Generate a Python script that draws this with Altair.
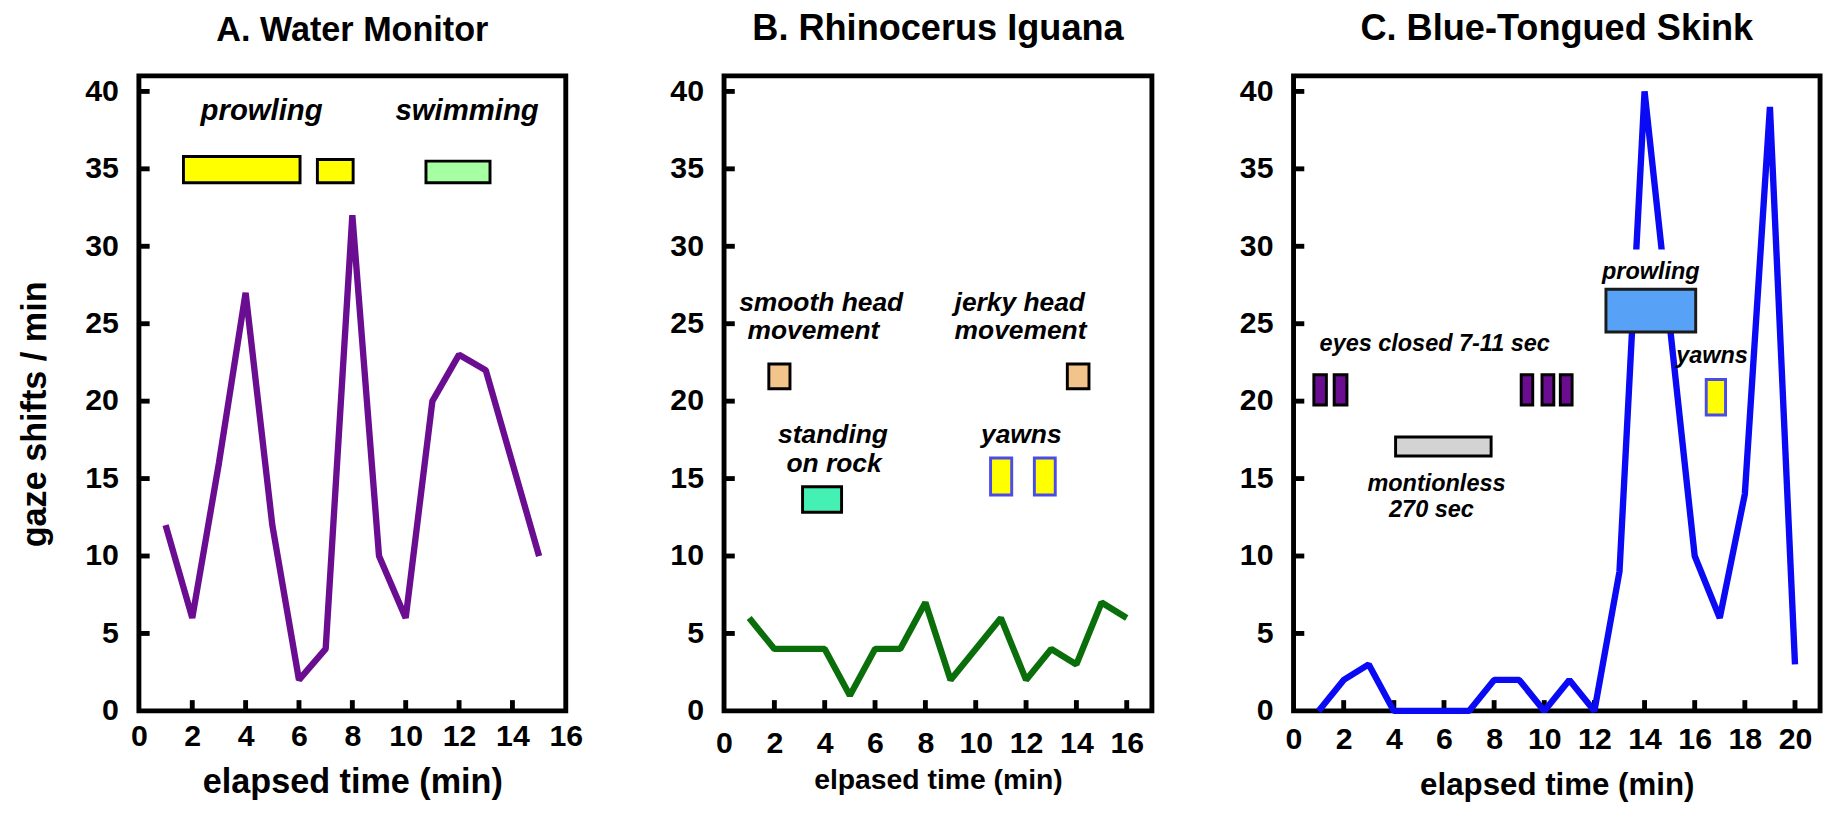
import altair as alt
import pandas as pd

FONT = "Liberation Sans"

# ---------------- Panel A: Water Monitor ----------------
a_time = list(range(1, 16))
a_gaze = [12, 6, 16, 27, 12, 2, 4, 32, 10, 6, 20, 23, 22, 16, 10]
a_box_x1 = [1.67, 6.69, 10.76]
a_box_x2 = [6.04, 8.03, 13.16]
a_box_y1 = [34.1, 34.1, 34.1]
a_box_y2 = [35.8, 35.6, 35.5]
a_box_fill = ["#FFFF00", "#FFFF00", "#A6FFA0"]
a_box_stroke = ["#000000", "#000000", "#000000"]
a_lab_text = ["prowling", "swimming"]
a_lab_x = [4.6, 12.3]
a_lab_y = [38.7, 38.7]

# ---------------- Panel B: Rhinocerus Iguana ----------------
b_time = list(range(1, 17))
b_gaze = [6, 4, 4, 4, 1, 4, 4, 7, 2, 4, 6, 2, 4, 3, 7, 6]
b_box_x1 = [1.78, 13.64, 3.12, 10.59, 12.33]
b_box_x2 = [2.62, 14.50, 4.67, 11.43, 13.16]
b_box_y1 = [20.8, 20.8, 12.83, 13.94, 13.94]
b_box_y2 = [22.4, 22.4, 14.47, 16.33, 16.33]
b_box_fill = ["#F3C38C", "#F3C38C", "#44F0B4", "#FFFF00", "#FFFF00"]
b_box_stroke = ["#000000", "#000000", "#000000", "#4B4BE6", "#4B4BE6"]
b_lab_text = ["smooth head", "movement", "jerky head", "movement",
              "standing", "on rock", "yawns"]
b_lab_x = [3.86, 3.55, 11.75, 11.78, 4.33, 4.37, 11.81]
b_lab_y = [26.35, 24.5, 26.35, 24.5, 17.8, 15.9, 17.8]

# ---------------- Panel C: Blue-Tongued Skink ----------------
c_time = list(range(1, 21))
c_gaze = [0, 2, 3, 0, 0, 0, 0, 2, 2, 0, 2, 0, 9, 40, 25, 10, 6, 14, 39, 3]
c_box_x1 = [12.1, 0.81, 1.62, 9.08, 9.91, 10.64, 4.07, 12.46, 16.46]
c_box_x2 = [15.9, 1.31, 2.13, 9.54, 10.38, 11.11, 7.88, 16.04, 17.23]
c_box_y1 = [27.3, 19.75, 19.75, 19.75, 19.75, 19.75, 16.46, 24.46, 19.1]
c_box_y2 = [29.7, 21.7, 21.7, 21.7, 21.7, 21.7, 17.68, 27.23, 21.4]
c_box_fill = ["#FFFFFF", "#6A0D91", "#6A0D91", "#6A0D91", "#6A0D91",
              "#6A0D91", "#D3D3D3", "#57A2F6", "#FFFF00"]
c_box_stroke = ["#FFFFFF", "#000000", "#000000", "#000000", "#000000",
                "#000000", "#000000", "#1A1A1A", "#4B4BE6"]
c_lab_text = ["eyes closed 7-11 sec", "montionless", "270 sec", "prowling", "yawns"]
c_lab_x = [5.63, 5.70, 5.5, 14.25, 16.69]
c_lab_y = [23.7, 14.65, 12.94, 28.3, 22.9]

Y_TICKS = [0, 5, 10, 15, 20, 25, 30, 35, 40]
Y_MAX = 41
H = 650
TICK_LEN = 11   # inward tick length, pixels


def panel(time, gaze, color, bx1, bx2, by1, by2, bfill, bstroke,
          ltext, lx, ly, lsize, xmax, xlabels, xticks, width, title,
          title_size, xtitle, xtitle_size, xtitle_y, label_pad, ytitle=False):
    xs = alt.Scale(domain=[0, xmax], nice=False, zero=False)
    ys = alt.Scale(domain=[0, Y_MAX], nice=False, zero=False)

    xaxis = alt.Axis(values=xlabels, title=xtitle, titleFontSize=xtitle_size,
                     titleY=xtitle_y, titleBaseline="alphabetic",
                     labelPadding=label_pad)
    if ytitle:
        yaxis = alt.Axis(values=Y_TICKS, title="gaze shifts / min",
                         titleFontSize=35, titleX=-96, titleY=346,
                         titleBaseline="alphabetic", titleAngle=270,
                         titleAlign="center", labelPadding=21)
    else:
        yaxis = alt.Axis(values=Y_TICKS, title=None, labelPadding=21)

    # inward tick marks: short two-point line segments in data space
    ux = xmax / width
    uy = Y_MAX / H
    tk_id, tk_x, tk_y = [], [], []
    k = 0
    for v in Y_TICKS[1:]:
        tk_id += [k, k]; tk_x += [0.0, TICK_LEN * ux]; tk_y += [v, v]; k += 1
    for v in xticks:
        tk_id += [k, k]; tk_x += [v, v]; tk_y += [0.0, TICK_LEN * uy]; k += 1
    tk_df = pd.DataFrame({"id": tk_id, "x": tk_x, "y": tk_y})
    ticks = alt.Chart(tk_df).mark_line(
        color="#000000", strokeWidth=5, strokeCap="butt", clip=False
    ).encode(x=alt.X("x:Q", scale=xs, axis=xaxis),
             y=alt.Y("y:Q", scale=ys, axis=yaxis),
             detail="id:N")

    line_df = pd.DataFrame({"t": time, "g": gaze})
    line = alt.Chart(line_df).mark_line(
        color=color, strokeWidth=6.5, strokeJoin="bevel", strokeCap="butt"
    ).encode(x=alt.X("t:Q", scale=xs, axis=xaxis),
             y=alt.Y("g:Q", scale=ys, axis=yaxis))

    box_df = pd.DataFrame({"x1": bx1, "x2": bx2, "y1": by1, "y2": by2,
                           "fill": bfill, "stroke": bstroke})
    boxes = alt.Chart(box_df).mark_rect(strokeWidth=3).encode(
        x=alt.X("x1:Q", scale=xs, axis=xaxis), x2="x2:Q",
        y=alt.Y("y1:Q", scale=ys, axis=yaxis), y2="y2:Q",
        fill=alt.Fill("fill:N", scale=None),
        stroke=alt.Stroke("stroke:N", scale=None))

    lab_df = pd.DataFrame({"x": lx, "y": ly, "text": ltext})
    labels = alt.Chart(lab_df).mark_text(
        font=FONT, fontSize=lsize, fontStyle="italic", fontWeight="bold",
        color="black", align="center", baseline="middle"
    ).encode(x=alt.X("x:Q", scale=xs, axis=xaxis),
             y=alt.Y("y:Q", scale=ys, axis=yaxis), text="text:N")

    return alt.layer(ticks, line, boxes, labels).properties(
        width=width, height=H,
        title=alt.TitleParams(title, fontSize=title_size))


A = panel(a_time, a_gaze, "#6A0D91", a_box_x1, a_box_x2, a_box_y1, a_box_y2,
          a_box_fill, a_box_stroke, a_lab_text, a_lab_x, a_lab_y, 30,
          16, list(range(0, 17, 2)), list(range(2, 15, 2)), 437,
          "A. Water Monitor", 35, "elapsed time (min)", 35, 84, 11, ytitle=True)
B = panel(b_time, b_gaze, "#0A6E0A", b_box_x1, b_box_x2, b_box_y1, b_box_y2,
          b_box_fill, b_box_stroke, b_lab_text, b_lab_x, b_lab_y, 27,
          17, list(range(0, 17, 2)), list(range(2, 17, 2)), 438,
          "B.  Rhinocerus Iguana", 37, "elpased time (min)", 29, 79, 19)
C = panel(c_time, c_gaze, "#0A0AF5", c_box_x1, c_box_x2, c_box_y1, c_box_y2,
          c_box_fill, c_box_stroke, c_lab_text, c_lab_x, c_lab_y, 24,
          21, list(range(0, 21, 2)), list(range(2, 21, 2)), 539,
          "C.  Blue-Tongued Skink", 37, "elapsed time (min)", 32, 86, 15)

chart = alt.hconcat(A, B, C, spacing=84).properties(
    padding={"left": 7, "top": -10, "right": 0, "bottom": 0}
).configure_view(
    stroke="black", strokeWidth=5
).configure_axis(
    domain=False, grid=False, ticks=False, tickSize=0,
    labelFont=FONT, labelFontSize=31, labelFontWeight="bold", labelColor="black",
    labelFlush=False, labelOverlap=False, labelBound=False,
    titleFont=FONT, titleFontWeight="bold", titleColor="black"
).configure_title(
    font=FONT, fontWeight="bold", color="black", anchor="middle",
    frame="group", baseline="alphabetic", offset=29
)

chart.save("out.html", embed_options={"renderer": "svg", "actions": False})
